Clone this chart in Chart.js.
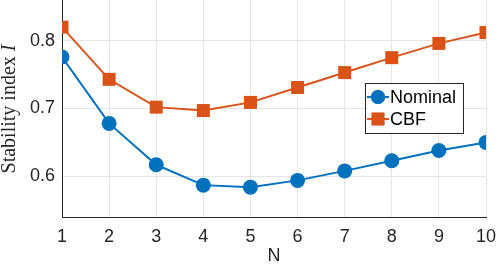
<!DOCTYPE html>
<html>
<head>
<meta charset="utf-8">
<script src="https://cdn.jsdelivr.net/npm/chart.js@4/dist/chart.umd.min.js"></script>
<style>
  html, body { margin: 0; padding: 0; background: #fff; }
  #wrap { width: 498px; height: 274px; position: relative; }
</style>
</head>
<body>
<div id="wrap"><canvas id="stabilityChart"></canvas></div>
<script>
// Data
const horizons = [1, 2, 3, 4, 5, 6, 7, 8, 9, 10];
const nominal = [0.776, 0.678, 0.617, 0.587, 0.584, 0.594, 0.608, 0.623, 0.638, 0.650];
const cbf = [0.820, 0.743, 0.702, 0.697, 0.709, 0.731, 0.753, 0.775, 0.796, 0.812];
const yTicks = [0.6, 0.7, 0.8];
const xTicks = [1, 2, 3, 4, 5, 6, 7, 8, 9, 10];

const blue = '#0072BD';
const orange = '#D95319';
const sansFont = '"Liberation Sans", Arial, sans-serif';
const serifFont = '"Liberation Serif", "DejaVu Serif", serif';

// Legend box drawn inside the plot, MATLAB style
const insideLegend = {
    id: 'insideLegend',
    afterDraw(chart) {
        const ctx = chart.ctx;
        const x0 = 365, y0 = 83, w = 98, h = 50;
        ctx.save();
        ctx.fillStyle = '#fff';
        ctx.fillRect(x0, y0, w, h);
        ctx.strokeStyle = '#262626';
        ctx.lineWidth = 1;
        ctx.strokeRect(x0 + 0.5, y0 + 0.5, w, h);
        const rows = [
            { label: 'Nominal', color: blue, style: 'circle', r: 7, y: y0 + 14 },
            { label: 'CBF', color: orange, style: 'rect', r: 9, y: y0 + 36 }
        ];
        rows.forEach(row => {
            ctx.strokeStyle = row.color;
            ctx.lineWidth = 2;
            ctx.beginPath();
            ctx.moveTo(x0 + 2, row.y);
            ctx.lineTo(x0 + 24, row.y);
            ctx.stroke();
            ctx.fillStyle = row.color;
            Chart.helpers.drawPoint(ctx, { pointStyle: row.style, radius: row.r, borderWidth: 0 }, x0 + 13, row.y);
            ctx.fill();
            ctx.fillStyle = '#000';
            ctx.font = '18px ' + sansFont;
            ctx.textBaseline = 'middle';
            ctx.textAlign = 'left';
            ctx.fillText(row.label, x0 + 25, row.y + 1);
        });
        ctx.restore();
    }
};

// Y axis label with italic I, serif like LaTeX
const yLabel = {
    id: 'yLabel',
    afterDraw(chart) {
        const ctx = chart.ctx;
        ctx.save();
        ctx.translate(15, 109);
        ctx.rotate(-Math.PI / 2);
        ctx.fillStyle = '#262626';
        ctx.textBaseline = 'alphabetic';
        const main = 'Stability index ';
        ctx.font = '20px ' + serifFont;
        const w1 = ctx.measureText(main).width;
        ctx.font = 'italic 20px ' + serifFont;
        const w2 = ctx.measureText('I').width;
        const start = -(w1 + w2) / 2;
        ctx.font = '20px ' + serifFont;
        ctx.textAlign = 'left';
        ctx.fillText(main, start, 0);
        ctx.font = 'italic 20px ' + serifFont;
        ctx.fillText('I', start + w1, 0);
        ctx.restore();
    }
};

new Chart(document.getElementById('stabilityChart'), {
    type: 'line',
    data: {
        datasets: [{
            label: 'Nominal',
            data: horizons.map((n, i) => ({ x: n, y: nominal[i] })),
            borderColor: blue,
            backgroundColor: blue,
            borderWidth: 2,
            pointStyle: 'circle',
            pointRadius: 7.5,
            pointBorderWidth: 0,
            tension: 0
        }, {
            label: 'CBF',
            data: horizons.map((n, i) => ({ x: n, y: cbf[i] })),
            borderColor: orange,
            backgroundColor: orange,
            borderWidth: 2,
            pointStyle: 'rect',
            pointRadius: 9.2,
            pointBorderWidth: 0,
            tension: 0
        }]
    },
    options: {
        responsive: true,
        maintainAspectRatio: false,
        animation: false,
        layout: { autoPadding: false, padding: { left: 0, right: 12, top: 0, bottom: 0 } },
        plugins: {
            legend: { display: false },
            tooltip: { enabled: false }
        },
        scales: {
            x: {
                type: 'linear',
                min: 1,
                max: 10,
                afterBuildTicks: axis => { axis.ticks = xTicks.map(v => ({ value: v })); },
                afterFit: axis => {
                    axis.height = 57;
                    axis.paddingLeft = 0;
                    axis.paddingRight = 0;
                },
                grid: { color: '#e5e5e5', drawTicks: false },
                border: { color: '#262626', width: 1 },
                ticks: {
                    color: '#262626',
                    font: { family: sansFont, size: 18 },
                    padding: 9,
                    maxRotation: 0
                },
                title: {
                    display: true,
                    text: 'N',
                    color: '#262626',
                    font: { family: sansFont, size: 18 },
                    padding: { top: 0, bottom: 7 }
                }
            },
            y: {
                min: 0.54,
                max: 0.86,
                afterBuildTicks: axis => { axis.ticks = yTicks.map(v => ({ value: v })); },
                afterFit: axis => {
                    axis.width = 62;
                    axis.paddingTop = 0;
                    axis.paddingBottom = 0;
                },
                grid: { color: '#e5e5e5', drawTicks: false },
                border: { color: '#262626', width: 1 },
                ticks: {
                    color: '#262626',
                    font: { family: sansFont, size: 18 },
                    padding: 7,
                    callback: v => v.toFixed(1)
                }
            }
        }
    },
    plugins: [insideLegend, yLabel]
});
</script>
</body>
</html>
